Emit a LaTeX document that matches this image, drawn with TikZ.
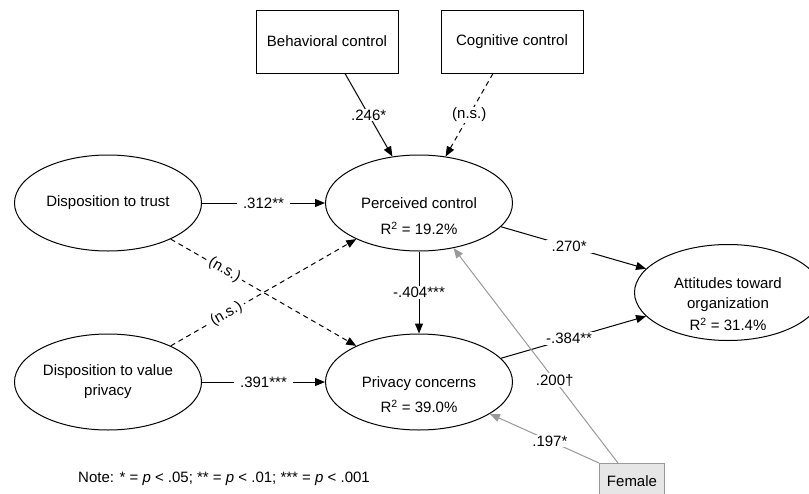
\documentclass[tikz,border=0pt]{standalone}
\usepackage{fontspec}
\setmainfont{Liberation Sans}
\usetikzlibrary{arrows.meta,shapes.geometric}
\definecolor{gline}{HTML}{999999}
\definecolor{gfill}{HTML}{E6E6E6}
\begin{document}
\begin{tikzpicture}[x=1pt,y=-1pt,
  font=\fontsize{15}{20}\selectfont,
  ell/.style={draw, ellipse, minimum width=187pt, minimum height=96pt, inner sep=0pt, line width=1pt, align=center},
  cbox/.style={draw, rectangle, minimum width=142pt, minimum height=63pt, line width=1pt},
  arr/.style={-{Triangle[length=10pt,width=8pt]}, line width=1pt},
  dsh/.style={arr, dash pattern=on 5pt off 4pt},
  garr/.style={arr, draw=gline, color=gline},
  lbl/.style={fill=white, inner xsep=6pt, inner ysep=1pt, text=black},
  slbl/.style={lbl, inner xsep=3pt, inner ysep=0pt, sloped},
  txt/.style={anchor=base, inner sep=0pt}]
\useasboundingbox (0,0) rectangle (809,493);
\clip (0,0) rectangle (809,493);

% boxes
\node[cbox] (bc) at (327,41.5) {Behavioral control};
\node[cbox] (cc) at (512,41.5) {Cognitive control};

% ellipses
\node[ell] (dt) at (108,203) {Disposition to trust};
\node[ell] (dv) at (108,382) {Disposition to value\\privacy};
\node[ell] (pc) at (419,203) {};
\node[txt] (pct1) at (419,208.5) {Perceived control};
\node[txt] (pct2) at (419,234.5) {R\textsuperscript{2} = 19.2\%};
\node[ell] (pv) at (419,382) {};
\node[txt] (pvt1) at (419,387.5) {Privacy concerns};
\node[txt] (pvt2) at (419,412.5) {R\textsuperscript{2} = 39.0\%};
\node[ell] (at) at (728,292.5) {};
\node[txt] (att1) at (728,288.5) {Attitudes toward};
\node[txt] (att2) at (728,308.5) {organization};
\node[txt] (att3) at (728,330.5) {R\textsuperscript{2} = 31.4\%};

% female
\node[draw=gline, fill=gfill, line width=1pt, minimum width=65pt, minimum height=36pt, anchor=north west] (fe) at (599,463) {Female};

% note
\node[anchor=base west, inner sep=0pt] (note) at (78,482) {Note: * = \textit{p} < .05; ** = \textit{p} < .01; *** = \textit{p} < .001};

% connectors
\draw[arr] ([xshift=18pt]bc.south) -- (pc) node[lbl, midway] {.246*};
\draw[dsh] ([xshift=-19pt]cc.south) -- (pc) node[lbl, midway] {(n.s.)};
\draw[arr] (dt) -- (pc) node[lbl, midway] {.312**};
\draw[arr] (dv) -- (pv) node[lbl, midway] {.391***};
\draw[dsh] (dt) -- (pv) node[slbl, pos=0.29] {(n.s.)};
\draw[dsh] (dv) -- (pc) node[slbl, pos=0.3] {(n.s.)};
\draw[arr] (pc) -- (pv) node[lbl, midway] {-.404***};
\draw[arr] (pc) -- (at) node[lbl, pos=0.47] {.270*};
\draw[arr] (pv) -- (at) node[lbl, pos=0.47] {-.384**};
\draw[garr] (fe.north west) -- (pv) node[lbl, pos=0.45] {.197*};
\draw[garr] ([xshift=19pt]fe.north west) -- (pc) node[lbl, pos=0.385] {.200†};
\end{tikzpicture}
\end{document}
